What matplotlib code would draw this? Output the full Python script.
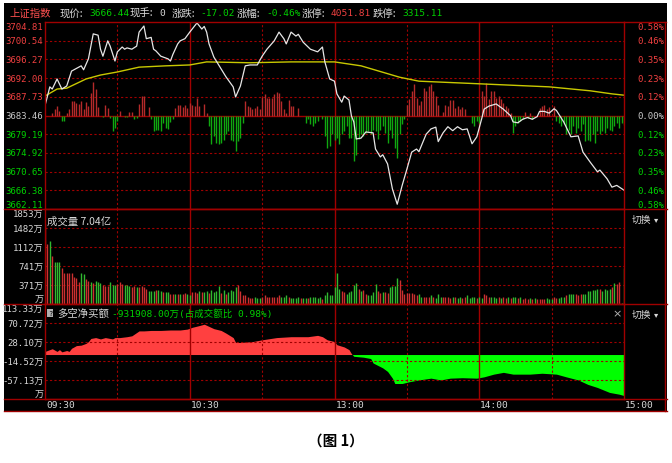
import matplotlib
matplotlib.use('Agg')
import matplotlib.pyplot as plt
from matplotlib.lines import Line2D
from matplotlib.patches import Rectangle

# ---- data ----
pre_close = 3683.46
price_labels = ['3704.81', '3700.54', '3696.27', '3692.00', '3687.73', '3683.46',
                '3679.19', '3674.92', '3670.65', '3666.38', '3662.11']
pct_labels = ['0.58%', '0.46%', '0.35%', '0.23%', '0.12%', '0.00%',
              '0.12%', '0.23%', '0.35%', '0.46%', '0.58%']

price_min = [0, 2, 3, 5, 7, 9, 11, 15, 16, 18, 20, 22, 23, 24, 26, 27, 29, 30, 32, 33,
             34, 36, 38, 39, 41, 42, 44, 45, 46, 48, 51, 52, 53, 55, 56, 58, 60, 61, 63, 65,
             66, 67, 68, 70, 73, 75, 78, 79, 81, 83, 85, 88, 90, 92, 95, 97, 99, 100, 102, 104,
             105, 107, 110, 113, 115, 116, 118, 120, 121, 123, 124, 126, 127, 128, 129, 131, 133, 136, 137, 139,
             140, 142, 144, 146, 148, 150, 152, 154, 155, 158, 160, 162, 163, 165, 167, 169, 171, 173, 175, 177,
             179, 181, 182, 184, 187, 190, 193, 194, 196, 198, 200, 202, 204, 205, 207, 209, 211, 212, 215, 218,
             221, 223, 226, 229, 230, 233, 235, 237, 240]
price_val = [3685.7, 3690.0, 3689.5, 3691.8, 3689.5, 3690.2, 3693.6, 3694.8, 3693.9, 3696.4,
             3702.1, 3701.8, 3698.6, 3697.0, 3700.5, 3699.3, 3695.9, 3698.0, 3699.1, 3698.6,
             3698.9, 3698.6, 3699.3, 3702.5, 3703.9, 3701.0, 3701.3, 3698.6, 3698.2, 3697.0,
             3696.4, 3695.9, 3697.4, 3699.8, 3700.5, 3701.0, 3702.5, 3703.2, 3704.6, 3703.2,
             3703.8, 3702.5, 3699.8, 3696.8, 3694.1, 3692.3, 3690.0, 3687.7, 3690.2, 3694.8,
             3695.0, 3695.0, 3697.0, 3698.6, 3700.5, 3702.5, 3701.0, 3699.8, 3702.5, 3701.6,
             3702.0, 3700.2, 3698.6, 3698.0, 3699.1, 3695.7, 3691.8, 3691.3, 3688.4, 3686.5,
             3687.9, 3687.0, 3683.4, 3682.0, 3678.1, 3678.3, 3679.7, 3679.5, 3675.8, 3674.0,
             3674.5, 3672.4, 3666.7, 3663.2, 3667.4, 3671.2, 3675.1, 3675.8, 3675.2, 3679.2,
             3680.4, 3680.8, 3677.5, 3679.5, 3680.9, 3680.0, 3680.9, 3680.2, 3680.4, 3677.0,
             3678.6, 3682.7, 3684.9, 3685.6, 3686.1, 3684.9, 3683.4, 3682.0, 3681.8, 3682.6,
             3683.0, 3682.6, 3683.2, 3684.4, 3684.4, 3684.0, 3685.0, 3684.6, 3682.0, 3678.6,
             3678.8, 3675.1, 3672.8, 3670.6, 3671.0, 3669.0, 3667.1, 3667.5, 3666.4]

avg_min = [0, 5, 9, 17, 23, 30, 39, 50, 60, 67, 85, 102, 120, 131, 147, 155, 180, 209, 226, 235, 240]
avg_val = [3687.9, 3689.5, 3689.7, 3691.8, 3692.7, 3693.4, 3694.5, 3694.8, 3695.0, 3695.7,
           3695.5, 3695.7, 3695.7, 3694.8, 3692.2, 3691.3, 3690.7, 3690.0, 3689.1, 3688.4, 3688.1]

# red / green strength bars around the previous close (index points)
bar_min = [3, 4, 5, 6, 7, 8, 9, 10, 11, 12, 13, 14, 15, 16, 17, 18, 19, 20, 21, 22,
           24, 25, 26, 27, 28, 29, 30, 31, 33, 34, 35, 36, 37, 38, 39, 40, 41, 43, 44, 45,
           46, 47, 48, 49, 50, 51, 52, 53, 54, 55, 56, 57, 58, 59, 60, 61, 62, 63, 64, 66,
           67, 68, 69, 70, 71, 72, 73, 74, 75, 76, 77, 78, 79, 80, 81, 82, 83, 84, 85, 86,
           87, 88, 89, 90, 91, 92, 93, 94, 95, 96, 97, 98, 99, 100, 101, 102, 103, 105, 108, 109,
           110, 111, 112, 113, 115, 116, 117, 118, 119, 120, 121, 122, 123, 124, 125, 126, 127, 128, 129, 130,
           131, 132, 133, 134, 135, 136, 137, 138, 139, 140, 141, 142, 143, 144, 145, 146, 147, 148, 149, 150,
           151, 152, 153, 154, 155, 156, 157, 158, 159, 160, 161, 162, 163, 165, 166, 167, 168, 169, 170, 171,
           172, 173, 174, 177, 178, 179, 180, 181, 182, 183, 184, 185, 186, 187, 188, 189, 190, 191, 192, 193,
           194, 195, 196, 197, 198, 199, 200, 201, 202, 205, 206, 207, 208, 209, 211, 212, 213, 214, 215, 216,
           217, 218, 219, 220, 221, 222, 223, 224, 225, 226, 227, 228, 229, 230, 231, 232, 233, 234, 235, 236,
           237, 238, 239, 240]
bar_val = [0.6, 1.4, 2.1, 1.1, -1.3, -1.3, 0.5, 1.4, 3.4, 3.4, 2.9, 2.7, 3.3, 1.4, 3.0, 2.1, 5.2, 7.6, 6.1, 1.9,
           -0.3, 2.3, 1.8, -0.5, -3.6, -2.8, -1.3, 1.0, -0.3, -0.3, 0.8, 0.8, -0.8, -0.5, 2.7, 4.4, 4.4, 1.9, -0.9, -3.6,
           -3.2, -3.2, -3.6, -1.7, -2.8, -3.0, -1.5, -0.8, 1.8, 2.5, 2.5, 1.9, 2.3, 1.8, 2.9, 2.5, 2.1, 4.0, 2.1, 2.7,
           0.6, -2.3, -6.6, -4.7, -6.2, -6.5, -6.2, -5.5, -4.3, -3.6, -5.5, -5.9, -8.1, -5.9, -5.1, -1.7, 3.3, 2.1, 1.9, 1.4,
           1.8, 2.1, 1.5, 4.3, 4.8, 4.0, 3.9, 3.9, 4.8, 5.3, 5.2, 3.3, 1.4, 0.6, 3.5, 2.1, 2.1, 1.7, -1.7, -0.9,
           -2.0, -2.4, -1.7, -1.3, -0.9, -4.7, -7.4, -7.0, -4.3, -5.5, -5.1, -6.6, -4.3, -3.6, -2.4, -5.1, -5.1, -10.5, -9.0, -5.4,
           -4.3, -4.7, -4.0, -3.6, -4.3, -3.2, -3.6, -5.4, -3.2, -2.4, -4.0, -6.2, -3.2, -5.1, -7.4, -9.8, -4.3, -2.0, -0.9, 2.5,
           3.7, 5.6, 7.2, 4.1, 2.5, 3.3, 6.3, 5.6, 6.8, 7.2, 5.6, 4.4, 2.5, 0.8, 2.5, 2.1, 3.5, 3.5, 1.7, 2.1,
           1.4, 2.0, 1.5, -1.7, -2.4, -1.3, -1.7, 5.6, 4.4, 7.5, 3.7, 5.6, 5.6, 4.0, 4.4, 3.7, 2.9, 2.1, 1.7, 0.6,
           -4.0, -2.4, -1.7, -1.3, -0.9, 0.8, -0.5, 0.5, -0.9, 1.7, 2.1, 2.3, 1.4, 2.0, 2.1, -1.3, -1.7, -2.4, -2.0, -4.3,
           -3.2, -4.3, -2.4, -4.0, -2.8, -3.6, -2.0, -5.9, -5.5, -5.9, -4.3, -6.2, -3.6, -4.3, -3.6, -4.0, -2.8, -3.2, -3.6, -2.4,
           -1.7, -2.8, -1.7, -2.2]

# volume per minute (万), R = up, G = down
volume = [1561, 1163, 1229, 943, 810, 810, 810, 698, 598, 598,
          598, 611, 531, 498, 432, 598, 585, 478, 452, 432,
          412, 452, 432, 418, 365, 346, 346, 432, 365, 365,
          399, 432, 399, 365, 365, 346, 332, 346, 332, 332,
          346, 332, 299, 252, 252, 246, 279, 266, 252, 233,
          233, 233, 199, 199, 199, 199, 199, 186, 213, 186,
          166, 233, 233, 213, 252, 233, 233, 252, 213, 279,
          233, 252, 346, 213, 279, 199, 233, 266, 252, 332,
          365, 252, 166, 166, 133, 120, 120, 133, 120, 120,
          133, 166, 146, 133, 133, 146, 146, 166, 146, 146,
          166, 133, 120, 120, 120, 133, 120, 120, 120, 120,
          146, 146, 133, 120, 133, 100, 166, 233, 166, 166,
          332,
          598, 299, 252, 233, 186, 233, 252, 365, 418, 299,
          252, 266, 186, 166, 166, 233, 399, 252, 213, 233,
          233, 213, 332, 346, 346, 498, 465, 266, 186, 213,
          213, 213, 186, 166, 186, 146, 133, 146, 146, 166,
          133, 120, 186, 133, 133, 146, 133, 120, 146, 133,
          120, 133, 120, 133, 166, 120, 133, 146, 120, 133,
          120, 199, 166, 146, 133, 146, 120, 133, 120, 133,
          120, 133, 120, 133, 146, 120, 133, 100, 120, 100,
          120, 100, 120, 100, 100, 100, 100, 120, 100, 100,
          133, 120, 120, 146, 133, 166, 186, 186, 186, 186,
          166, 186, 199, 186, 252, 252, 266, 279, 299, 299,
          252, 299, 279, 299, 332, 412, 399, 432, 20, 698]
vol_side = ('RRGRGGGRRR' 'RRRRRGGRRG' 'RGGGRRRGGG' 'RRRGGGRRGR' 'RRRGGGRGGR' 'GGRRGRGRRG'
            'GRRRGRGGRG' 'GGGRGRGGGG' 'RRRRRRRGGG' 'RRRRRRRRGG' 'GRGGGGRGGR' 'GGGGGRGGGG' 'G'
            'GGRRGGGGGR' 'GRRGGGGRRG' 'RRGGGGRRRR' 'RRRRGGRRRG' 'RGGGRRRRGR' 'GGRRGGGGRG'
            'GRRRGGGRGR' 'RGRGGRGRRR' 'GRGRRRRGGG' 'RRGGGRGGGR' 'RRGGGGGGGR' 'GGGGRGRRGG')
vol_ticks = [1853, 1482, 1112, 741, 371, 0]
vol_labels = ['1853万', '1482万', '1112万', '741万', '371万', '万']

# 多空净买额 (万)
nb_min = [0, 2, 3, 5, 6, 7, 9, 10, 11, 13, 15, 17, 18, 19, 21, 23, 25, 28, 29, 31,
          34, 36, 39, 41, 44, 48, 52, 56, 59, 61, 64, 66, 68, 70, 73, 75, 78, 79, 81, 86,
          90, 96, 102, 109, 113, 115, 117, 120, 121, 124, 126, 127, 128, 132, 135, 136, 140, 142, 144, 145,
          148, 151, 155, 160, 164, 168, 173, 179, 182, 186, 190, 194, 201, 206, 212, 216, 221, 225, 229, 234,
          238, 240]
nb_val = [7, 11, 13, 7, 11, 6, 9, 7, 14, 20, 21, 25, 29, 36, 38, 35, 38, 35, 38, 38,
          40, 42, 53, 53, 54, 54, 55, 55, 57, 61, 65, 68, 63, 58, 54, 48, 38, 27, 27, 29,
          33, 38, 40, 40, 43, 40, 33, 29, 22, 17, 11, 2, -4, -6, -9, -19, -30, -38, -53, -65,
          -65, -61, -57, -53, -57, -53, -52, -53, -50, -44, -40, -44, -44, -42, -44, -50, -57, -67, -74, -85,
          -89, -92]
nb_ticks = [113.33, 70.72, 28.10, -14.52, -57.13, -99.75]
nb_labels = ['113.33万', '70.72万', '28.10万', '-14.52万', '-57.13万', '万']

time_min = [0, 60, 120, 180, 240]
time_labels = ['09:30', '10:30', '13:00', '14:00', '15:00']

# ---- layout helpers (pixel coords of a 672x464 picture) ----
W, H = 672, 464
CJK = ['Noto Sans CJK SC', 'DejaVu Sans']
MONO = ['DejaVu Sans Mono', 'Noto Sans CJK SC']
LINE = '#a00000'
TXT = '#d8d8d8'
UPT = '#f04040'
DNT = '#00d000'


def fx(x):
    return x / W


def fy(y):
    return 1 - y / H


def rect(x0, y0, x1, y1):
    return [fx(x0), fy(y1), fx(x1) - fx(x0), fy(y0) - fy(y1)]


def ftext(x, y, s, color=TXT, size=7, fam=CJK, **kw):
    fig.text(fx(x), fy(y), s, color=color, fontsize=size, family=fam, va='center', **kw)


def hline(x0, x1, y, **kw):
    fig.add_artist(Line2D([fx(x0), fx(x1)], [fy(y), fy(y)], color=LINE, lw=1.0, **kw))


def vline(x, y0, y1, **kw):
    fig.add_artist(Line2D([fx(x), fx(x)], [fy(y0), fy(y1)], color=LINE, lw=1.0, **kw))


fig = plt.figure(figsize=(6.72, 4.64), dpi=100, facecolor='white')
fig.patches.append(Rectangle((fx(4), fy(412)), fx(667) - fx(4), fy(4) - fy(412),
                             transform=fig.transFigure, facecolor='black', edgecolor='none',
                             zorder=-10))


def panel(y0, y1, lo, hi, grid_vals):
    ax = fig.add_axes(rect(45, y0, 624, y1), facecolor='black')
    ax.set_xlim(0, 240)
    ax.set_ylim(lo, hi)
    ax.set_xticks([])
    ax.set_yticks([])
    for sp in ax.spines.values():
        sp.set_color(LINE)
        sp.set_linewidth(1.0)
    for g in grid_vals:
        ax.axhline(g, color=LINE, lw=0.8, ls=(0, (2, 2)))
    for m in [30, 90, 150, 210]:
        ax.axvline(m, color=LINE, lw=0.8, ls=(0, (2, 2)))
    for m in [60, 120, 180]:
        ax.axvline(m, color=LINE, lw=1.0)
    return ax


def left_labels(ax, vals, labels, colors, right=None):
    n = len(vals)
    for i, (v, s) in enumerate(zip(vals, labels)):
        va = 'top' if i == 0 else ('bottom' if i == n - 1 else 'center')
        ax.text(-0.003, v, s, transform=ax.get_yaxis_transform(), ha='right', va=va,
                color=colors[i], fontsize=6.5, family=MONO)
        if right is not None:
            ax.text(1.069, v, right[i], transform=ax.get_yaxis_transform(), ha='right', va=va,
                    color=colors[i], fontsize=6.5, family=MONO)


# ---- main price panel ----
pvals = [float(s) for s in price_labels]
ax1 = panel(23, 210, pvals[-1], pvals[0], pvals[1:5] + pvals[6:-1])
ax1.axhline(pre_close, color=LINE, lw=1.0)
ax1.vlines(bar_min, pre_close, [pre_close + v for v in bar_val],
           colors=['#b52a2a' if v > 0 else '#10a810' for v in bar_val], lw=1.0)
ax1.plot(avg_min, avg_val, color='#c8c800', lw=1.0)
ax1.plot(price_min, price_val, color='#e6e6e6', lw=0.9)
pcol = [UPT] * 5 + ['#c8c8c8'] + [DNT] * 5
left_labels(ax1, pvals, price_labels, pcol, right=pct_labels)

# ---- volume panel ----
ax2 = panel(210, 305, 0, 1853, vol_ticks[1:-1])
ax2.vlines(range(len(volume)), 0, volume,
           colors=['#cc3030' if c == 'R' else '#30b830' for c in vol_side], lw=1.0)
left_labels(ax2, vol_ticks, vol_labels, [TXT] * 6)
ax2.text(0.003, 0.93, '成交量 7.04亿', transform=ax2.transAxes, color=TXT, fontsize=7.5,
         family=CJK, va='top', ha='left')

# ---- net buy panel ----
ax3 = panel(305, 400, nb_ticks[-1], nb_ticks[0], nb_ticks[1:-1])
ax3.fill_between(nb_min, nb_val, 0, where=[v >= 0 for v in nb_val], interpolate=True,
                 color='#ff4040', lw=0)
ax3.fill_between(nb_min, nb_val, 0, where=[v <= 0 for v in nb_val], interpolate=True,
                 color='#00ff00', lw=0)
left_labels(ax3, nb_ticks, nb_labels, [TXT] * 6)

# ---- frame lines outside the panels ----
for y in [210, 305, 400]:
    hline(4, 667, y)
hline(624, 666, 23)
hline(4, 667, 412)
vline(665, 23, 412)

# ---- header ----
ftext(9, 14, '上证指数', color='#ff5050', size=7.5)
ftext(60, 14, '现价:', size=7.5)
ftext(89, 14, '3666.44', color=DNT, size=6.8, fam=MONO)
ftext(130, 14, '现手:', size=7.5)
ftext(159, 14, '0', size=6.8, fam=MONO)
ftext(172, 14, '涨跌:', size=7.5)
ftext(200, 14, '-17.02', color=DNT, size=6.8, fam=MONO)
ftext(237, 14, '涨幅:', size=7.5)
ftext(266, 14, '-0.46%', color=DNT, size=6.8, fam=MONO)
ftext(302, 14, '涨停:', size=7.5)
ftext(331, 14, '4051.81', color=UPT, size=6.8, fam=MONO)
ftext(373, 14, '跌停:', size=7.5)
ftext(402, 14, '3315.11', color=DNT, size=6.8, fam=MONO)

# net buy header and right-side switches
ftext(48, 314, '?', color='black', size=5, fam=MONO,
      bbox=dict(boxstyle='square,pad=0.15', facecolor='#b0b0b0', edgecolor='none'))
ftext(57, 314, '多空净买额', size=7.5)
ftext(112, 314, '-931908.00万(占成交额比 0.98%)', color=DNT, size=6.8, fam=MONO)
ftext(612, 314, '×', color='#b0b0b0', size=8, fam=['DejaVu Sans'])
for y in [220, 315]:
    ftext(632, y, '切换', size=7)
    ftext(654, y, '▾', size=6, fam=['DejaVu Sans'])

# time axis
for m, s in zip(time_min, time_labels):
    x = 45 + m * (579 / 240)
    ftext(x + 1, 406, s, size=6.8, fam=MONO)

# caption
fig.text(fx(336), fy(441), '（图 1）', color='black', fontsize=10.5, family=CJK,
         fontweight='bold', ha='center', va='center')

fig.savefig('out.png', dpi=100, facecolor='white')
